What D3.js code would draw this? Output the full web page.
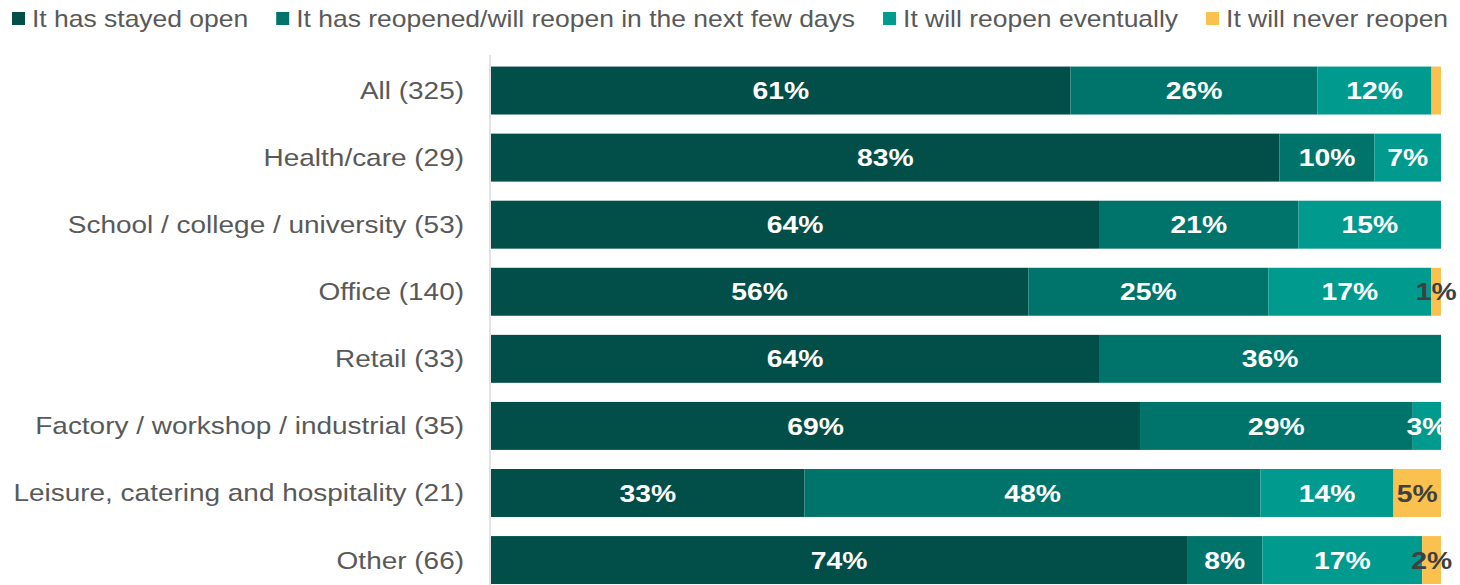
<!DOCTYPE html>
<html>
<head>
<meta charset="utf-8">
<script src="https://cdn.jsdelivr.net/npm/d3@7/dist/d3.min.js"></script>
<style>
  html, body { margin: 0; padding: 0; background: #ffffff; }
  svg { display: block; font-family: "Liberation Sans", Arial, sans-serif; }
</style>
</head>
<body>
<svg id="chart" width="1460" height="585"></svg>
<script>
// Workplace categories (respondent counts in brackets)
const categories = [
  "All (325)",
  "Health/care (29)",
  "School / college / university (53)",
  "Office (140)",
  "Retail (33)",
  "Factory / workshop / industrial (35)",
  "Leisure, catering and hospitality (21)",
  "Other (66)"
];

// Share of respondents (%) per answer
const stayedOpen       = [61, 83, 64, 56, 64, 69, 33, 74];
const reopenedSoon     = [26, 10, 21, 25, 36, 29, 48, 8];
const reopenEventually = [12, 7, 15, 17, 0, 3, 14, 17];
const neverReopen      = [1, 0, 0, 1, 0, 0, 5, 2];

// Segments drawn without a value label (category, series key)
const unlabelled = [["All (325)", "never"]];

const seriesNames = [
  "It has stayed open",
  "It has reopened/will reopen in the next few days",
  "It will reopen eventually",
  "It will never reopen"
];

const keys = ["stayed", "soon", "eventually", "never"];
const colors = ["#024e48", "#00746b", "#009a8f", "#fbc14f"];
const labelColors = ["#ffffff", "#ffffff", "#ffffff", "#404040"];

const rows = categories.map((c, i) => ({
  category: c,
  stayed: stayedOpen[i],
  soon: reopenedSoon[i],
  eventually: reopenEventually[i],
  never: neverReopen[i]
}));

const svg = d3.select("#chart");

const x = d3.scaleLinear().domain([0, 1]).range([491, 1441]);
const y = d3.scaleBand()
  .domain(categories)
  .range([57, 593.6])
  .paddingInner(0.285)
  .paddingOuter(0.1425);

const stacked = d3.stack().keys(keys).offset(d3.stackOffsetExpand)(rows);

const color = d3.scaleOrdinal().domain(keys).range(colors);
const labelColor = d3.scaleOrdinal().domain(keys).range(labelColors);

// Bars
const layers = svg.append("g").selectAll("g")
  .data(stacked)
  .join("g")
  .attr("fill", d => color(d.key));

layers.selectAll("rect")
  .data(d => d.map(s => ({ key: d.key, s })))
  .join("rect")
  .filter(d => d.s.data[d.key] > 0)
  .attr("x", d => x(d.s[0]))
  .attr("y", d => y(d.s.data.category))
  .attr("width", d => x(d.s[1]) - x(d.s[0]))
  .attr("height", y.bandwidth());

// Value labels
const isUnlabelled = d => unlabelled.some(u => u[0] === d.s.data.category && u[1] === d.key);
const labelData = [];
stacked.forEach(layer => layer.forEach(s => {
  const item = { key: layer.key, s };
  if (s.data[layer.key] > 0 && !isUnlabelled(item)) labelData.push(item);
}));

svg.append("g").selectAll("text")
  .data(labelData)
  .join("text")
  .attr("transform", d => `translate(${(x(d.s[0]) + x(d.s[1])) / 2},${y(d.s.data.category) + y.bandwidth() / 2}) scale(1.18,1)`)
  .attr("text-anchor", "middle")
  .attr("dy", "0.36em")
  .attr("font-size", 24)
  .attr("font-weight", "bold")
  .attr("fill", d => labelColor(d.key))
  .text(d => d.s.data[d.key] + "%");

// Category axis
const yAxis = d3.axisLeft(y).tickSize(0).tickPadding(0);
const axisG = svg.append("g").attr("transform", "translate(490,0)").call(yAxis);
axisG.select(".domain").remove();
axisG.selectAll(".tick text")
  .attr("x", 0)
  .attr("dy", 0)
  .attr("transform", "translate(-26,8.5) scale(1.165,1)")
  .attr("font-size", 24)
  .attr("font-family", "'Liberation Sans', Arial, sans-serif")
  .attr("fill", "#595959");

svg.append("line")
  .attr("x1", 490).attr("x2", 490)
  .attr("y1", 55).attr("y2", 585)
  .attr("stroke", "#d9d9d9")
  .attr("stroke-width", 1.5);

// Legend
const legend = svg.append("g");
let lx = 12;
seriesNames.forEach((name, i) => {
  const g = legend.append("g").attr("transform", `translate(${lx},0)`);
  g.append("rect")
    .attr("x", 0).attr("y", 12)
    .attr("width", 13).attr("height", 13)
    .attr("fill", colors[i]);
  const t = g.append("text")
    .attr("transform", "translate(20,27) scale(1.103,1)")
    .attr("font-size", 24)
    .attr("fill", "#595959")
    .text(name);
  const w = t.node().getComputedTextLength() * 1.103;
  lx += 20 + w + 28;
});
</script>
</body>
</html>
